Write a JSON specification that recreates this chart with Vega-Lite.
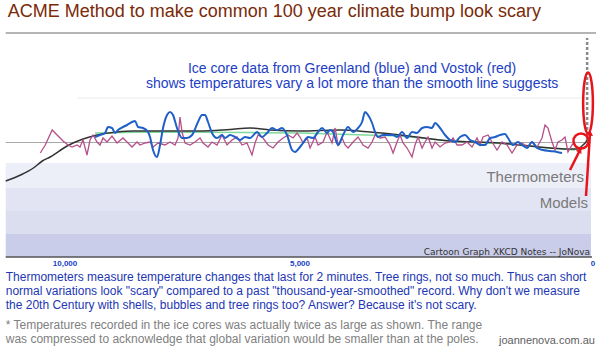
{
"$schema":"https://vega.github.io/schema/vega-lite/v6.json",
"width":600,"height":352,
"autosize":{"type":"fit","contains":"padding"},
"padding":0,
"background":"white",
"config":{"view":{"stroke":null},"text":{"font":"Liberation Sans"}},
"datasets":{
"series":[
{"series":"Trend","yr":9361,"anom":0.25},{"series":"Trend","yr":8191,"anom":0.275},{"series":"Trend","yr":6063,"anom":0.26},{"series":"Trend","yr":5000,"anom":0.25},{"series":"Trend","yr":3293,"anom":0.175},{"series":"Trend","yr":2440,"anom":0.05},{"series":"Trend","yr":1587,"anom":-0.01},{"series":"Trend","yr":734,"anom":-0.125},{"series":"Trend","yr":307,"anom":-0.175},
{"series":"Smooth","yr":11277,"anom":-0.95},{"series":"Smooth","yr":10957,"anom":-0.8},{"series":"Smooth","yr":10681,"anom":-0.625},{"series":"Smooth","yr":10489,"anom":-0.45},{"series":"Smooth","yr":10319,"anom":-0.35},{"series":"Smooth","yr":9957,"anom":-0.075},{"series":"Smooth","yr":9617,"anom":0.1},{"series":"Smooth","yr":9319,"anom":0.2},{"series":"Smooth","yr":8893,"anom":0.275},{"series":"Smooth","yr":8553,"anom":0.3},{"series":"Smooth","yr":8191,"anom":0.3},{"series":"Smooth","yr":7127,"anom":0.3},{"series":"Smooth","yr":6489,"anom":0.34},{"series":"Smooth","yr":6063,"anom":0.375},{"series":"Smooth","yr":5637,"anom":0.325},{"series":"Smooth","yr":5000,"anom":0.3},{"series":"Smooth","yr":4316,"anom":0.325},{"series":"Smooth","yr":3804,"anom":0.275},{"series":"Smooth","yr":3293,"anom":0.2},{"series":"Smooth","yr":2440,"anom":0.05},{"series":"Smooth","yr":1587,"anom":0},{"series":"Smooth","yr":1075,"anom":-0.075},{"series":"Smooth","yr":734,"anom":-0.125},{"series":"Smooth","yr":444,"anom":-0.15},{"series":"Smooth","yr":273,"anom":-0.15},{"series":"Smooth","yr":171,"anom":-0.05},{"series":"Smooth","yr":102,"anom":0.075},{"series":"Smooth","yr":85,"anom":0.15},
{"series":"Vostok","yr":10532,"anom":-0.25},{"series":"Vostok","yr":10425,"anom":-0.05},{"series":"Vostok","yr":10276,"anom":0.325},{"series":"Vostok","yr":10170,"anom":0.2},{"series":"Vostok","yr":10042,"anom":0.05},{"series":"Vostok","yr":9936,"anom":-0.05},{"series":"Vostok","yr":9851,"anom":-0.1},{"series":"Vostok","yr":9744,"anom":-0.05},{"series":"Vostok","yr":9681,"anom":-0.1},{"series":"Vostok","yr":9617,"anom":0.075},{"series":"Vostok","yr":9532,"anom":-0.3},{"series":"Vostok","yr":9468,"anom":0.075},{"series":"Vostok","yr":9404,"anom":0.2},{"series":"Vostok","yr":9319,"anom":0.025},{"series":"Vostok","yr":9255,"anom":-0.05},{"series":"Vostok","yr":9191,"anom":0.125},{"series":"Vostok","yr":9106,"anom":0.025},{"series":"Vostok","yr":9000,"anom":0.175},{"series":"Vostok","yr":8893,"anom":0},{"series":"Vostok","yr":8766,"anom":0.125},{"series":"Vostok","yr":8659,"anom":0},{"series":"Vostok","yr":8574,"anom":-0.1},{"series":"Vostok","yr":8468,"anom":0.025},{"series":"Vostok","yr":8404,"anom":-0.05},{"series":"Vostok","yr":8298,"anom":0},{"series":"Vostok","yr":8191,"anom":0.025},{"series":"Vostok","yr":8127,"anom":-0.1},{"series":"Vostok","yr":8021,"anom":0},{"series":"Vostok","yr":7872,"anom":-0.05},{"series":"Vostok","yr":7765,"anom":0.025},{"series":"Vostok","yr":7659,"anom":-0.05},{"series":"Vostok","yr":7595,"anom":0.125},{"series":"Vostok","yr":7553,"anom":0.65},{"series":"Vostok","yr":7510,"anom":0.275},{"series":"Vostok","yr":7446,"anom":0},{"series":"Vostok","yr":7340,"anom":-0.05},{"series":"Vostok","yr":7234,"anom":0.025},{"series":"Vostok","yr":7127,"anom":0.125},{"series":"Vostok","yr":7063,"anom":0},{"series":"Vostok","yr":6957,"anom":-0.1},{"series":"Vostok","yr":6872,"anom":0.025},{"series":"Vostok","yr":6765,"anom":-0.05},{"series":"Vostok","yr":6659,"anom":0.2},{"series":"Vostok","yr":6553,"anom":-0.05},{"series":"Vostok","yr":6446,"anom":0.075},{"series":"Vostok","yr":6340,"anom":0.15},{"series":"Vostok","yr":6233,"anom":-0.05},{"series":"Vostok","yr":6127,"anom":0},{"series":"Vostok","yr":6021,"anom":-0.3},{"series":"Vostok","yr":5957,"anom":0},{"series":"Vostok","yr":5893,"anom":0.2},{"series":"Vostok","yr":5787,"anom":0.125},{"series":"Vostok","yr":5680,"anom":-0.05},{"series":"Vostok","yr":5574,"anom":-0.125},{"series":"Vostok","yr":5467,"anom":0.025},{"series":"Vostok","yr":5361,"anom":0.125},{"series":"Vostok","yr":5254,"anom":0.2},{"series":"Vostok","yr":5148,"anom":0.125},{"series":"Vostok","yr":5063,"anom":0.25},{"series":"Vostok","yr":5000,"anom":0.15},{"series":"Vostok","yr":4947,"anom":0},{"series":"Vostok","yr":4879,"anom":0.125},{"series":"Vostok","yr":4828,"anom":-0.125},{"series":"Vostok","yr":4743,"anom":0.15},{"series":"Vostok","yr":4692,"anom":-0.05},{"series":"Vostok","yr":4606,"anom":0.025},{"series":"Vostok","yr":4538,"anom":0.275},{"series":"Vostok","yr":4453,"anom":0},{"series":"Vostok","yr":4401,"anom":0.375},{"series":"Vostok","yr":4350,"anom":-0.05},{"series":"Vostok","yr":4282,"anom":0.125},{"series":"Vostok","yr":4231,"anom":-0.05},{"series":"Vostok","yr":4180,"anom":-0.125},{"series":"Vostok","yr":4094,"anom":0.025},{"series":"Vostok","yr":4009,"anom":0.15},{"series":"Vostok","yr":3924,"anom":-0.05},{"series":"Vostok","yr":3839,"anom":-0.125},{"series":"Vostok","yr":3770,"anom":0.025},{"series":"Vostok","yr":3719,"anom":0.2},{"series":"Vostok","yr":3634,"anom":0.125},{"series":"Vostok","yr":3548,"anom":0.15},{"series":"Vostok","yr":3463,"anom":-0.05},{"series":"Vostok","yr":3412,"anom":-0.25},{"series":"Vostok","yr":3344,"anom":0.025},{"series":"Vostok","yr":3293,"anom":0.2},{"series":"Vostok","yr":3241,"anom":0},{"series":"Vostok","yr":3173,"anom":-0.125},{"series":"Vostok","yr":3088,"anom":-0.35},{"series":"Vostok","yr":3037,"anom":-0.05},{"series":"Vostok","yr":2986,"anom":0.15},{"series":"Vostok","yr":2917,"anom":-0.125},{"series":"Vostok","yr":2866,"anom":0.025},{"series":"Vostok","yr":2815,"anom":0.15},{"series":"Vostok","yr":2747,"anom":-0.125},{"series":"Vostok","yr":2695,"anom":0.025},{"series":"Vostok","yr":2610,"anom":-0.1},{"series":"Vostok","yr":2525,"anom":0},{"series":"Vostok","yr":2440,"anom":0.025},{"series":"Vostok","yr":2388,"anom":0.125},{"series":"Vostok","yr":2320,"anom":-0.05},{"series":"Vostok","yr":2235,"anom":-0.05},{"series":"Vostok","yr":2150,"anom":0.025},{"series":"Vostok","yr":2064,"anom":-0.1},{"series":"Vostok","yr":1979,"anom":0.125},{"series":"Vostok","yr":1928,"anom":-0.05},{"series":"Vostok","yr":1877,"anom":0.15},{"series":"Vostok","yr":1791,"anom":0.2},{"series":"Vostok","yr":1723,"anom":0.025},{"series":"Vostok","yr":1638,"anom":-0.175},{"series":"Vostok","yr":1552,"anom":0.025},{"series":"Vostok","yr":1467,"anom":-0.05},{"series":"Vostok","yr":1382,"anom":-0.25},{"series":"Vostok","yr":1297,"anom":-0.05},{"series":"Vostok","yr":1211,"anom":0},{"series":"Vostok","yr":1126,"anom":-0.1},{"series":"Vostok","yr":1041,"anom":0.025},{"series":"Vostok","yr":955,"anom":-0.1},{"series":"Vostok","yr":870,"anom":0.125},{"series":"Vostok","yr":819,"anom":0.45},{"series":"Vostok","yr":768,"anom":0.375},{"series":"Vostok","yr":699,"anom":0.025},{"series":"Vostok","yr":648,"anom":-0.175},{"series":"Vostok","yr":597,"anom":0.025},{"series":"Vostok","yr":529,"anom":0.075},{"series":"Vostok","yr":478,"anom":0.15},{"series":"Vostok","yr":427,"anom":-0.225},{"series":"Vostok","yr":358,"anom":-0.05},{"series":"Vostok","yr":307,"anom":0.025},
{"series":"Greenland","yr":9361,"anom":0.15},{"series":"Greenland","yr":9255,"anom":0.2},{"series":"Greenland","yr":9149,"anom":0.25},{"series":"Greenland","yr":9085,"anom":0.4},{"series":"Greenland","yr":9000,"anom":0.375},{"series":"Greenland","yr":8936,"anom":0.25},{"series":"Greenland","yr":8872,"anom":0.325},{"series":"Greenland","yr":8766,"anom":0.4},{"series":"Greenland","yr":8680,"anom":0.45},{"series":"Greenland","yr":8574,"anom":0.525},{"series":"Greenland","yr":8510,"anom":0.55},{"series":"Greenland","yr":8446,"anom":0.4},{"series":"Greenland","yr":8340,"anom":0.375},{"series":"Greenland","yr":8234,"anom":0.275},{"series":"Greenland","yr":8191,"anom":0.15},{"series":"Greenland","yr":8127,"anom":-0.175},{"series":"Greenland","yr":8042,"anom":-0.35},{"series":"Greenland","yr":7978,"anom":-0.05},{"series":"Greenland","yr":7914,"anom":0.375},{"series":"Greenland","yr":7829,"anom":0.7},{"series":"Greenland","yr":7765,"anom":0.775},{"series":"Greenland","yr":7702,"anom":0.7},{"series":"Greenland","yr":7617,"anom":0.375},{"series":"Greenland","yr":7510,"anom":0.125},{"series":"Greenland","yr":7404,"anom":0.125},{"series":"Greenland","yr":7297,"anom":0.2},{"series":"Greenland","yr":7170,"anom":0.525},{"series":"Greenland","yr":7085,"anom":0.7},{"series":"Greenland","yr":7021,"anom":0.7},{"series":"Greenland","yr":6957,"anom":0.525},{"series":"Greenland","yr":6872,"anom":0.25},{"series":"Greenland","yr":6765,"anom":0.125},{"series":"Greenland","yr":6659,"anom":0.2},{"series":"Greenland","yr":6595,"anom":0.125},{"series":"Greenland","yr":6489,"anom":0.2},{"series":"Greenland","yr":6382,"anom":0.15},{"series":"Greenland","yr":6276,"anom":0.075},{"series":"Greenland","yr":6170,"anom":0.15},{"series":"Greenland","yr":6063,"anom":0.125},{"series":"Greenland","yr":5914,"anom":0.275},{"series":"Greenland","yr":5808,"anom":0.15},{"series":"Greenland","yr":5701,"anom":0.25},{"series":"Greenland","yr":5595,"anom":0.375},{"series":"Greenland","yr":5489,"anom":0.325},{"series":"Greenland","yr":5382,"anom":0.375},{"series":"Greenland","yr":5276,"anom":0.2},{"series":"Greenland","yr":5169,"anom":-0.175},{"series":"Greenland","yr":5105,"anom":-0.225},{"series":"Greenland","yr":5000,"anom":-0.1},{"series":"Greenland","yr":4947,"anom":0},{"series":"Greenland","yr":4862,"anom":0.15},{"series":"Greenland","yr":4777,"anom":0.125},{"series":"Greenland","yr":4692,"anom":0.275},{"series":"Greenland","yr":4623,"anom":0.375},{"series":"Greenland","yr":4538,"anom":0.25},{"series":"Greenland","yr":4487,"anom":0.325},{"series":"Greenland","yr":4436,"anom":0.275},{"series":"Greenland","yr":4350,"anom":-0.05},{"series":"Greenland","yr":4265,"anom":0.2},{"series":"Greenland","yr":4180,"anom":0.4},{"series":"Greenland","yr":4094,"anom":0.275},{"series":"Greenland","yr":4009,"anom":0.375},{"series":"Greenland","yr":3941,"anom":0.525},{"series":"Greenland","yr":3890,"anom":0.775},{"series":"Greenland","yr":3839,"anom":0.7},{"series":"Greenland","yr":3770,"anom":0.5},{"series":"Greenland","yr":3719,"anom":0.275},{"series":"Greenland","yr":3668,"anom":0.15},{"series":"Greenland","yr":3583,"anom":0.2},{"series":"Greenland","yr":3497,"anom":0.2},{"series":"Greenland","yr":3412,"anom":0.2},{"series":"Greenland","yr":3344,"anom":0.15},{"series":"Greenland","yr":3258,"anom":0.275},{"series":"Greenland","yr":3173,"anom":0.125},{"series":"Greenland","yr":3088,"anom":0.275},{"series":"Greenland","yr":3003,"anom":0.25},{"series":"Greenland","yr":2917,"anom":0.375},{"series":"Greenland","yr":2832,"anom":0.4},{"series":"Greenland","yr":2747,"anom":0.375},{"series":"Greenland","yr":2695,"anom":0.5},{"series":"Greenland","yr":2610,"anom":0.375},{"series":"Greenland","yr":2525,"anom":0.2},{"series":"Greenland","yr":2440,"anom":0.075},{"series":"Greenland","yr":2354,"anom":0.025},{"series":"Greenland","yr":2269,"anom":0.15},{"series":"Greenland","yr":2184,"anom":0.2},{"series":"Greenland","yr":2098,"anom":0.075},{"series":"Greenland","yr":2013,"anom":0.025},{"series":"Greenland","yr":1928,"anom":-0.05},{"series":"Greenland","yr":1842,"anom":-0.05},{"series":"Greenland","yr":1757,"anom":0.125},{"series":"Greenland","yr":1672,"anom":0.15},{"series":"Greenland","yr":1587,"anom":0.2},{"series":"Greenland","yr":1501,"anom":0.225},{"series":"Greenland","yr":1450,"anom":0.125},{"series":"Greenland","yr":1365,"anom":-0.05},{"series":"Greenland","yr":1280,"anom":0.025},{"series":"Greenland","yr":1211,"anom":-0.05},{"series":"Greenland","yr":1126,"anom":-0.125},{"series":"Greenland","yr":1041,"anom":0.025},{"series":"Greenland","yr":955,"anom":-0.125},{"series":"Greenland","yr":853,"anom":-0.175},{"series":"Greenland","yr":734,"anom":-0.2},{"series":"Greenland","yr":614,"anom":-0.225},{"series":"Greenland","yr":529,"anom":-0.25}
],
"ticks":[{"yr":10000,"label":"10,000"},{"yr":5000,"label":"5,000"},{"yr":0,"label":"0"}]
},
"layer":[
{"data":{"values":[{}]},"mark":{"type":"rect","color":"#eceef8"},"encoding":{"x":{"datum":11277,"type":"quantitative","scale":{"domain":[11400,10000,5000,0,-120],"range":[0,65,300,593,600],"nice":false,"zero":false},"axis":null},"x2":{"datum":34},"y":{"datum":-0.5,"type":"quantitative","scale":{"domain":[-5.225,3.575],"nice":false,"zero":false},"axis":null},"y2":{"datum":-1.125}}},
{"data":{"values":[{}]},"mark":{"type":"rect","color":"#e2e4f3"},"encoding":{"x":{"datum":11277,"type":"quantitative","scale":{"domain":[11400,10000,5000,0,-120],"range":[0,65,300,593,600],"nice":false,"zero":false},"axis":null},"x2":{"datum":34},"y":{"datum":-1.125,"type":"quantitative","scale":{"domain":[-5.225,3.575],"nice":false,"zero":false},"axis":null},"y2":{"datum":-1.7}}},
{"data":{"values":[{}]},"mark":{"type":"rect","color":"#dadeef"},"encoding":{"x":{"datum":11277,"type":"quantitative","scale":{"domain":[11400,10000,5000,0,-120],"range":[0,65,300,593,600],"nice":false,"zero":false},"axis":null},"x2":{"datum":34},"y":{"datum":-1.7,"type":"quantitative","scale":{"domain":[-5.225,3.575],"nice":false,"zero":false},"axis":null},"y2":{"datum":-2.275}}},
{"data":{"values":[{}]},"mark":{"type":"rect","color":"#c9cde9"},"encoding":{"x":{"datum":11277,"type":"quantitative","scale":{"domain":[11400,10000,5000,0,-120],"range":[0,65,300,593,600],"nice":false,"zero":false},"axis":null},"x2":{"datum":34},"y":{"datum":-2.275,"type":"quantitative","scale":{"domain":[-5.225,3.575],"nice":false,"zero":false},"axis":null},"y2":{"datum":-2.85}}},
{"data":{"values":[{}]},"mark":{"type":"rule","color":"#555555","strokeWidth":1.5},"encoding":{"x":{"datum":11277,"type":"quantitative","scale":{"domain":[11400,10000,5000,0,-120],"range":[0,65,300,593,600],"nice":false,"zero":false},"axis":null},"x2":{"datum":17},"y":{"datum":-2.85,"type":"quantitative","scale":{"domain":[-5.225,3.575],"nice":false,"zero":false},"axis":null}}},
{"data":{"values":[{}]},"mark":{"type":"rule","color":"#b4b4b4","strokeWidth":2},"encoding":{"x":{"datum":11277,"type":"quantitative","scale":{"domain":[11400,10000,5000,0,-120],"range":[0,65,300,593,600],"nice":false,"zero":false},"axis":null},"x2":{"datum":-51},"y":{"datum":2.75,"type":"quantitative","scale":{"domain":[-5.225,3.575],"nice":false,"zero":false},"axis":null}}},
{"data":{"values":[{}]},"mark":{"type":"rule","color":"#a8a8a8","strokeWidth":1},"encoding":{"x":{"datum":11277,"type":"quantitative","scale":{"domain":[11400,10000,5000,0,-120],"range":[0,65,300,593,600],"nice":false,"zero":false},"axis":null},"x2":{"datum":34},"y":{"datum":0.0125,"type":"quantitative","scale":{"domain":[-5.225,3.575],"nice":false,"zero":false},"axis":null}}},
{"data":{"values":[{}]},"mark":{"type":"rule","color":"#ececec","strokeWidth":1},"encoding":{"x":{"datum":9744,"type":"quantitative","scale":{"domain":[11400,10000,5000,0,-120],"range":[0,65,300,593,600],"nice":false,"zero":false},"axis":null},"x2":{"datum":51},"y":{"datum":1.125,"type":"quantitative","scale":{"domain":[-5.225,3.575],"nice":false,"zero":false},"axis":null}}},
{"data":{"name":"series"},"transform":[{"filter":"datum.series === 'Trend'"}],"mark":{"type":"line","color":"#7fd99a","strokeWidth":1.5},"encoding":{"x":{"field":"yr","type":"quantitative","scale":{"domain":[11400,10000,5000,0,-120],"range":[0,65,300,593,600],"nice":false,"zero":false},"axis":null},"y":{"field":"anom","type":"quantitative","scale":{"domain":[-5.225,3.575],"nice":false,"zero":false},"axis":null}}},
{"data":{"name":"series"},"transform":[{"filter":"datum.series === 'Smooth'"}],"mark":{"type":"line","color":"#333333","strokeWidth":1.5,"interpolate":"monotone"},"encoding":{"x":{"field":"yr","type":"quantitative","scale":{"domain":[11400,10000,5000,0,-120],"range":[0,65,300,593,600],"nice":false,"zero":false},"axis":null},"y":{"field":"anom","type":"quantitative","scale":{"domain":[-5.225,3.575],"nice":false,"zero":false},"axis":null}}},
{"data":{"name":"series"},"transform":[{"filter":"datum.series === 'Vostok'"}],"mark":{"type":"line","color":"#b5508a","strokeWidth":1.3},"encoding":{"x":{"field":"yr","type":"quantitative","scale":{"domain":[11400,10000,5000,0,-120],"range":[0,65,300,593,600],"nice":false,"zero":false},"axis":null},"y":{"field":"anom","type":"quantitative","scale":{"domain":[-5.225,3.575],"nice":false,"zero":false},"axis":null}}},
{"data":{"name":"series"},"transform":[{"filter":"datum.series === 'Greenland'"}],"mark":{"type":"line","color":"#1f5fc8","strokeWidth":2,"interpolate":"monotone"},"encoding":{"x":{"field":"yr","type":"quantitative","scale":{"domain":[11400,10000,5000,0,-120],"range":[0,65,300,593,600],"nice":false,"zero":false},"axis":null},"y":{"field":"anom","type":"quantitative","scale":{"domain":[-5.225,3.575],"nice":false,"zero":false},"axis":null}}},
{"data":{"values":[{}]},"mark":{"type":"rule","color":"#8a8a8a","strokeWidth":2.5,"strokeDash":[3,2]},"encoding":{"x":{"datum":100,"type":"quantitative","scale":{"domain":[11400,10000,5000,0,-120],"range":[0,65,300,593,600],"nice":false,"zero":false},"axis":null},"y":{"datum":0.075,"type":"quantitative","scale":{"domain":[-5.225,3.575],"nice":false,"zero":false},"axis":null},"y2":{"datum":2.625}}},
{"data":{"values":[{}]},"mark":{"type":"point","shape":"M -0.16 0 A 0.16 1 0 1 0 0.16 0 A 0.16 1 0 1 0 -0.16 0 Z","size":3700,"filled":false,"stroke":"#e8141c","strokeWidth":2.5,"opacity":1},"encoding":{"x":{"datum":85,"type":"quantitative","scale":{"domain":[11400,10000,5000,0,-120],"range":[0,65,300,593,600],"nice":false,"zero":false},"axis":null},"y":{"datum":1.0,"type":"quantitative","scale":{"domain":[-5.225,3.575],"nice":false,"zero":false},"axis":null}}},
{"data":{"values":[{}]},"mark":{"type":"point","shape":"circle","size":225,"filled":false,"stroke":"#e8141c","strokeWidth":2.5,"opacity":1},"encoding":{"x":{"datum":205,"type":"quantitative","scale":{"domain":[11400,10000,5000,0,-120],"range":[0,65,300,593,600],"nice":false,"zero":false},"axis":null},"y":{"datum":0.05,"type":"quantitative","scale":{"domain":[-5.225,3.575],"nice":false,"zero":false},"axis":null}}},
{"data":{"values":[{}]},"mark":{"type":"rule","color":"#e8141c","strokeWidth":2.5},"encoding":{"x":{"datum":392,"type":"quantitative","scale":{"domain":[11400,10000,5000,0,-120],"range":[0,65,300,593,600],"nice":false,"zero":false},"axis":null},"x2":{"datum":239},"y":{"datum":-0.675,"type":"quantitative","scale":{"domain":[-5.225,3.575],"nice":false,"zero":false},"axis":null},"y2":{"datum":-0.225}}},
{"data":{"values":[{}]},"mark":{"type":"rule","color":"#e8141c","strokeWidth":2.5},"encoding":{"x":{"datum":119,"type":"quantitative","scale":{"domain":[11400,10000,5000,0,-120],"range":[0,65,300,593,600],"nice":false,"zero":false},"axis":null},"x2":{"datum":51},"y":{"datum":-1.325,"type":"quantitative","scale":{"domain":[-5.225,3.575],"nice":false,"zero":false},"axis":null},"y2":{"datum":0.25}}},
{"data":{"values":[{}]},"mark":{"type":"point","shape":"triangle-up","size":40,"filled":true,"color":"#e8141c","angle":30,"opacity":1},"encoding":{"x":{"datum":222,"type":"quantitative","scale":{"domain":[11400,10000,5000,0,-120],"range":[0,65,300,593,600],"nice":false,"zero":false},"axis":null},"y":{"datum":-0.175,"type":"quantitative","scale":{"domain":[-5.225,3.575],"nice":false,"zero":false},"axis":null}}},
{"data":{"values":[{}]},"mark":{"type":"point","shape":"triangle-up","size":40,"filled":true,"color":"#e8141c","angle":3,"opacity":1},"encoding":{"x":{"datum":51,"type":"quantitative","scale":{"domain":[11400,10000,5000,0,-120],"range":[0,65,300,593,600],"nice":false,"zero":false},"axis":null},"y":{"datum":0.25,"type":"quantitative","scale":{"domain":[-5.225,3.575],"nice":false,"zero":false},"axis":null}}},
{"data":{"values":[{}]},"mark":{"type":"text","text":"ACME Method to make common 100 year climate bump look scary","align":"left","baseline":"alphabetic","fontSize":18,"color":"#7a2a08"},"encoding":{"x":{"datum":11234,"type":"quantitative","scale":{"domain":[11400,10000,5000,0,-120],"range":[0,65,300,593,600],"nice":false,"zero":false},"axis":null},"y":{"datum":3.15,"type":"quantitative","scale":{"domain":[-5.225,3.575],"nice":false,"zero":false},"axis":null}}},
{"data":{"values":[{}]},"mark":{"type":"text","text":["Ice core data from Greenland (blue) and Vostok (red)","shows temperatures vary a lot more than the smooth line suggests"],"lineHeight":15,"align":"center","baseline":"alphabetic","fontSize":14,"color":"#1c3ec4"},"encoding":{"x":{"datum":4111,"type":"quantitative","scale":{"domain":[11400,10000,5000,0,-120],"range":[0,65,300,593,600],"nice":false,"zero":false},"axis":null},"y":{"datum":1.75,"type":"quantitative","scale":{"domain":[-5.225,3.575],"nice":false,"zero":false},"axis":null}}},
{"data":{"values":[{}]},"mark":{"type":"text","text":"Thermometers","align":"right","baseline":"alphabetic","fontSize":15,"color":"#7a7a7a"},"encoding":{"x":{"datum":154,"type":"quantitative","scale":{"domain":[11400,10000,5000,0,-120],"range":[0,65,300,593,600],"nice":false,"zero":false},"axis":null},"y":{"datum":-0.975,"type":"quantitative","scale":{"domain":[-5.225,3.575],"nice":false,"zero":false},"axis":null}}},
{"data":{"values":[{}]},"mark":{"type":"text","text":"Models","align":"right","baseline":"alphabetic","fontSize":15,"color":"#7a7a7a"},"encoding":{"x":{"datum":85,"type":"quantitative","scale":{"domain":[11400,10000,5000,0,-120],"range":[0,65,300,593,600],"nice":false,"zero":false},"axis":null},"y":{"datum":-1.625,"type":"quantitative","scale":{"domain":[-5.225,3.575],"nice":false,"zero":false},"axis":null}}},
{"data":{"values":[{}]},"mark":{"type":"text","text":"Cartoon Graph XKCD Notes -- JoNova","align":"right","baseline":"alphabetic","fontSize":9,"font":"DejaVu Sans","color":"#333333"},"encoding":{"x":{"datum":51,"type":"quantitative","scale":{"domain":[11400,10000,5000,0,-120],"range":[0,65,300,593,600],"nice":false,"zero":false},"axis":null},"y":{"datum":-2.8,"type":"quantitative","scale":{"domain":[-5.225,3.575],"nice":false,"zero":false},"axis":null}}},
{"data":{"name":"ticks"},"mark":{"type":"text","align":"center","baseline":"alphabetic","fontSize":8,"fontWeight":"bold","color":"#1a3fc8"},"encoding":{"x":{"field":"yr","type":"quantitative","scale":{"domain":[11400,10000,5000,0,-120],"range":[0,65,300,593,600],"nice":false,"zero":false},"axis":null},"y":{"datum":-3.075,"type":"quantitative","scale":{"domain":[-5.225,3.575],"nice":false,"zero":false},"axis":null},"text":{"field":"label"}}},
{"data":{"values":[{}]},"mark":{"type":"text","text":["Thermometers measure temperature changes that last for 2 minutes. Tree rings, not so much. Thus can short","normal variations look \"scary\" compared to a past \"thousand-year-smoothed\" record. Why don't we measure","the 20th Century with shells, bubbles and tree rings too?  Answer? Because it's not scary."],"lineHeight":14,"align":"left","baseline":"alphabetic","fontSize":12,"color":"#2236b4"},"encoding":{"x":{"datum":11277,"type":"quantitative","scale":{"domain":[11400,10000,5000,0,-120],"range":[0,65,300,593,600],"nice":false,"zero":false},"axis":null},"y":{"datum":-3.45,"type":"quantitative","scale":{"domain":[-5.225,3.575],"nice":false,"zero":false},"axis":null}}},
{"data":{"values":[{}]},"mark":{"type":"text","text":["* Temperatures recorded in the ice cores was actually twice as large as shown. The range","was compressed to acknowledge that global variation would be smaller than at the poles."],"lineHeight":14,"align":"left","baseline":"alphabetic","fontSize":12,"color":"#808080"},"encoding":{"x":{"datum":11277,"type":"quantitative","scale":{"domain":[11400,10000,5000,0,-120],"range":[0,65,300,593,600],"nice":false,"zero":false},"axis":null},"y":{"datum":-4.65,"type":"quantitative","scale":{"domain":[-5.225,3.575],"nice":false,"zero":false},"axis":null}}},
{"data":{"values":[{}]},"mark":{"type":"text","text":"joannenova.com.au","align":"right","baseline":"alphabetic","fontSize":11,"color":"#606060"},"encoding":{"x":{"datum":-34,"type":"quantitative","scale":{"domain":[11400,10000,5000,0,-120],"range":[0,65,300,593,600],"nice":false,"zero":false},"axis":null},"y":{"datum":-5.025,"type":"quantitative","scale":{"domain":[-5.225,3.575],"nice":false,"zero":false},"axis":null}}}
]
}
